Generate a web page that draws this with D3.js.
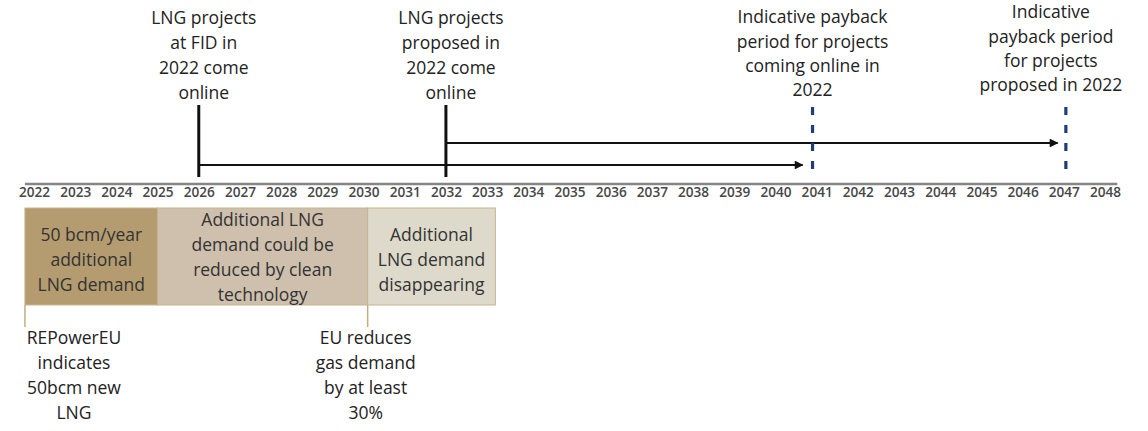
<!DOCTYPE html>
<head>
  <meta charset="utf-8">
  <script src="https://d3js.org/d3.v7.min.js"></script>
  <style>
    body { margin: 0; background: #fff; }
    text { font-family: "Open Sans", sans-serif; }
  </style>
</head>

<body>
  <script>
  // tick labels on the timeline
  var years = [2022, 2023, 2024, 2025, 2026, 2027, 2028, 2029, 2030, 2031, 2032, 2033, 2034, 2035,
               2036, 2037, 2038, 2039, 2040, 2041, 2042, 2043, 2044, 2045, 2046, 2047, 2048];
  var axisExtent = [2021.78, 2048.3];

  // projects coming online (solid markers) and arrows towards payback
  var onlineYears = [2026, 2032];
  var onlineLabels = [
    ["LNG projects", "at FID in", "2022 come", "online"],
    ["LNG projects", "proposed in", "2022 come", "online"]
  ];
  var arrowEnds = [2040.66, 2046.85];

  // payback markers (dashed)
  var paybackYears = [2040.9, 2047.05];
  var paybackLabels = [
    ["Indicative payback", "period for projects", "coming online in", "2022"],
    ["Indicative", "payback period", "for projects", "proposed in 2022"]
  ];

  // demand phases under the axis
  var phaseStart = [2021.78, 2025, 2030.1];
  var phaseEnd = [2025, 2030.1, 2033.2];
  var phaseLabels = [
    ["50 bcm/year", "additional", "LNG demand"],
    ["Additional LNG", "demand could be", "reduced by clean", "technology"],
    ["Additional", "LNG demand", "disappearing"]
  ];
  var phaseColors = ["#b49c70", "#cec0ad", "#dddacb"];

  // policy events
  var eventYears = [2021.78, 2030.1];
  var eventLabels = [
    ["REPowerEU", "indicates", "50bcm new", "LNG"],
    ["EU reduces", "gas demand", "by at least", "30%"]
  ];

  var width = 1148, height = 431;

  var svg = d3.select("body").append("svg")
      .attr("width", width)
      .attr("height", height);

  var x = d3.scaleLinear()
      .domain([2022, 2048])
      .range([34, 1105]);

  var axisY = 184;

  svg.append("defs").append("marker")
      .attr("id", "head")
      .attr("viewBox", "0 0 10 10")
      .attr("refX", 9)
      .attr("refY", 5)
      .attr("markerWidth", 4.5)
      .attr("markerHeight", 4)
      .attr("markerUnits", "strokeWidth")
      .attr("orient", "auto")
    .append("path")
      .attr("d", "M0,0L10,5L0,10Z")
      .attr("fill", "#111");

  // timeline axis
  svg.append("line")
      .attr("x1", x(axisExtent[0]))
      .attr("x2", x(axisExtent[1]))
      .attr("y1", axisY)
      .attr("y2", axisY)
      .attr("stroke", "#858585")
      .attr("stroke-width", 2.5);

  svg.append("g")
      .attr("transform", "translate(0," + axisY + ")")
      .call(d3.axisBottom(x).tickValues(years).tickFormat(d3.format("d")).tickSize(0).tickPadding(3))
      .call(function(g) { g.select(".domain").remove(); })
      .selectAll("text")
        .attr("font-family", "Open Sans")
        .attr("font-size", 13.6)
        .attr("font-weight", 600)
        .attr("fill", "#474747");

  // multi-line text helper
  function addLines(g, lines, cx, firstY, step, size, color) {
    g.append("text")
        .attr("text-anchor", "middle")
        .attr("font-size", size)
        .attr("fill", color)
      .selectAll("tspan")
      .data(lines)
      .enter().append("tspan")
        .attr("x", cx)
        .attr("y", function(d, i) { return firstY + i * step; })
        .attr("dy", "0.35em")
        .text(function(d) { return d; });
  }

  // online markers
  var onlineDx = [5, 5];
  onlineYears.forEach(function(yr, i) {
    svg.append("line")
        .attr("x1", x(yr)).attr("x2", x(yr))
        .attr("y1", 105).attr("y2", 177)
        .attr("stroke", "#111")
        .attr("stroke-width", 3);
    addLines(svg, onlineLabels[i], x(yr) + onlineDx[i], 18, 25, 17.5, "#222");
  });

  // arrows
  var arrowY = [165, 143];
  onlineYears.forEach(function(yr, i) {
    svg.append("line")
        .attr("x1", x(yr)).attr("x2", x(arrowEnds[i]))
        .attr("y1", arrowY[i]).attr("y2", arrowY[i])
        .attr("stroke", "#111")
        .attr("stroke-width", 2.2)
        .attr("marker-end", "url(#head)");
  });

  // payback markers
  var paybackDx = [0, -15];
  var paybackTop = [17, 12];
  paybackYears.forEach(function(yr, i) {
    svg.append("line")
        .attr("x1", x(yr)).attr("x2", x(yr))
        .attr("y1", 107).attr("y2", 177)
        .attr("stroke", "#1f3d78")
        .attr("stroke-width", 3.2)
        .attr("stroke-dasharray", "8,10");
    addLines(svg, paybackLabels[i], x(yr) + paybackDx[i], paybackTop[i], 24.4, 17.5, "#222");
  });

  // phase boxes
  var boxTop = 208, boxBottom = 305;
  phaseStart.forEach(function(s, i) {
    svg.append("rect")
        .attr("x", x(s))
        .attr("y", boxTop)
        .attr("width", x(phaseEnd[i]) - x(s))
        .attr("height", boxBottom - boxTop)
        .attr("fill", phaseColors[i])
        .attr("stroke", "#c6b48e")
        .attr("stroke-width", 1);
    var n = phaseLabels[i].length;
    var mid = (boxTop + boxBottom) / 2 + (n === 3 ? 3 : 1);
    addLines(svg, phaseLabels[i], (x(s) + x(phaseEnd[i])) / 2, mid - (n - 1) * 25 / 2, 25, 17.5, "#333");
  });

  // events below the boxes
  var eventDx = [49, -2];
  eventYears.forEach(function(yr, i) {
    svg.append("line")
        .attr("x1", x(yr)).attr("x2", x(yr))
        .attr("y1", boxBottom).attr("y2", 327)
        .attr("stroke", "#c2ad82")
        .attr("stroke-width", 1.5);
    addLines(svg, eventLabels[i], x(yr) + eventDx[i], 338, 25, 17.5, "#222");
  });
  </script>
</body>
